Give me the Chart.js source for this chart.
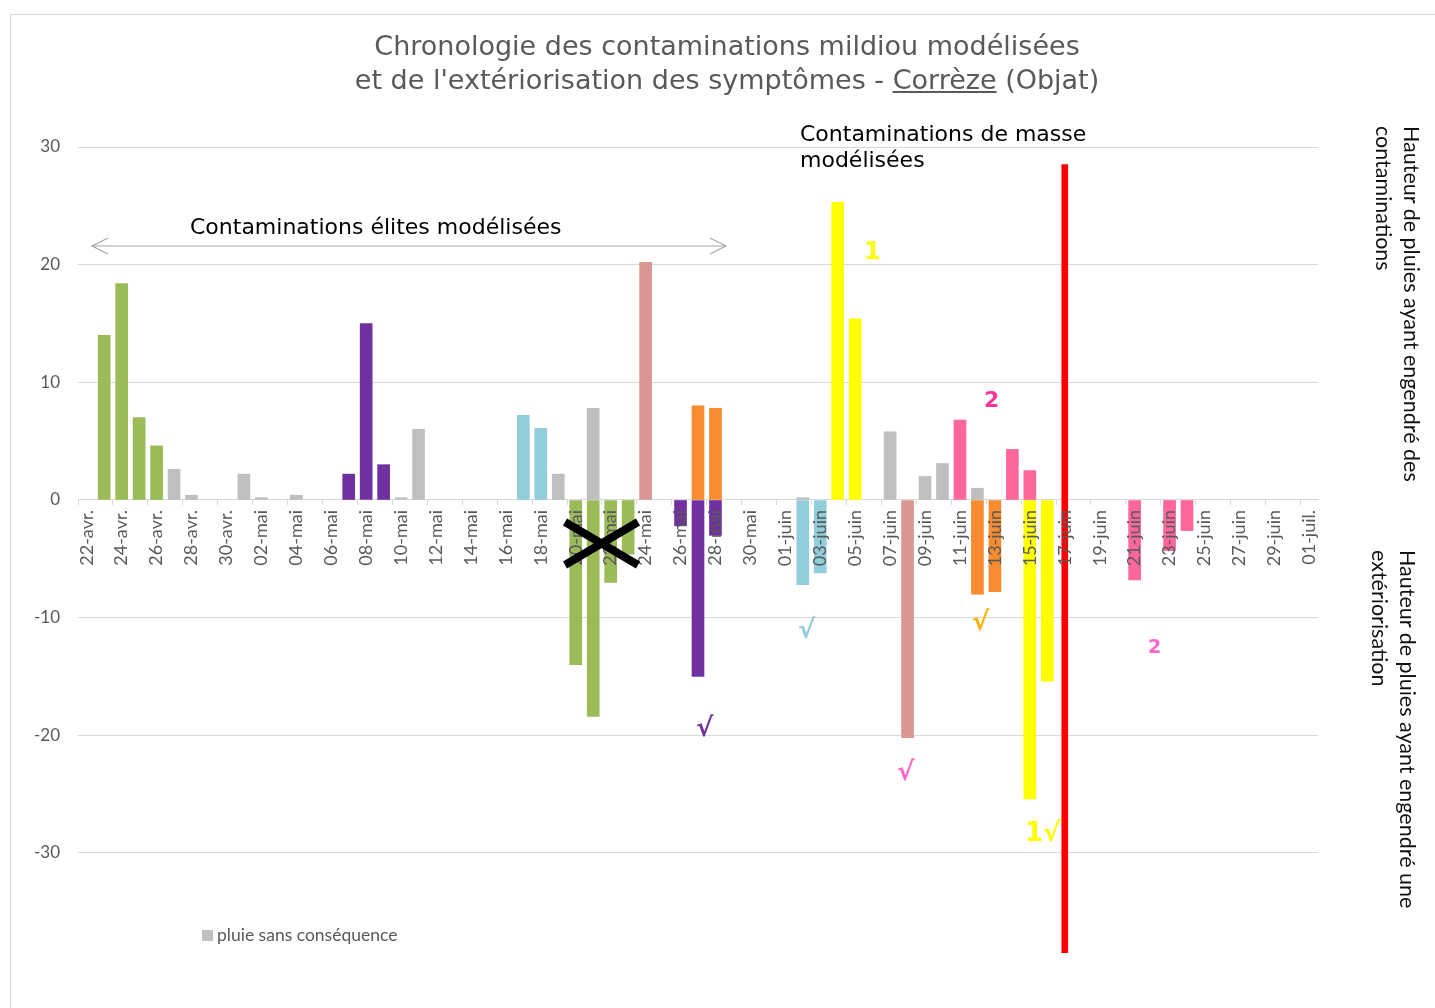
<!DOCTYPE html>
<html lang="fr">
<head>
<meta charset="utf-8">
<script src="https://cdn.jsdelivr.net/npm/chart.js@4.4.1/dist/chart.umd.min.js"></script>
<style>
  body { margin: 0; background: #fff; width: 1435px; height: 1008px; overflow: hidden; position: relative; font-family: "DejaVu Sans", sans-serif; }
  #frame { position: absolute; left: 10px; top: 14px; width: 1500px; height: 1100px; border-left: 1px solid #d9d9d9; border-top: 1px solid #d9d9d9; }
  #graph { position: absolute; left: 0; top: 0; }
  #marks { position: absolute; left: 0; top: 0; }
  .txt { position: absolute; white-space: nowrap; }
  #titre { left: 227px; top: 29px; width: 1000px; text-align: center; font-size: 27px; line-height: 34px; color: #595959; }
  .note { font-size: 22px; line-height: 26px; color: #000; }
  .axe { font-family: Lato, sans-serif; font-size: 21.5px; line-height: 28px; color: #111; writing-mode: vertical-rl; }
  .sym { font-weight: bold; font-family: "DejaVu Sans", sans-serif; }
  #legende { left: 202px; top: 925px; font-family: Lato, sans-serif; font-size: 17.5px; line-height: 20px; color: #595959; }
  #legende span { display: inline-block; width: 11px; height: 11px; background: #bfbfbf; margin-right: 4px; }
</style>
</head>
<body>
<div id="frame"></div>
<canvas id="graph" width="1435" height="1008"></canvas>

<div class="txt" id="titre">Chronologie des contaminations mildiou modélisées<br>et de l'extériorisation des symptômes - <u>Corrèze</u> (Objat)</div>
<div class="txt note" style="left:800px; top:121px;">Contaminations de masse<br>modélisées</div>
<div class="txt note" style="left:190px; top:214px;">Contaminations élites modélisées</div>
<div class="txt axe" style="left:1370px; top:126px;">Hauteur de pluies ayant engendré des<br>contaminations</div>
<div class="txt axe" style="left:1366px; top:550px;">Hauteur de pluies ayant engendré une<br>extériorisation</div>

<div class="txt sym" style="left:864px; top:237px; font-size:24px; color:#ffff00;">1</div>
<div class="txt sym" style="left:984px; top:387px; font-size:22px; color:#ff3399;">2</div>
<div class="txt sym" style="left:1148px; top:635px; font-size:19px; color:#ff66cc;">2</div>
<div class="txt sym" style="left:798px; top:614px; font-size:26px; font-style:italic; color:#92cddc;">√</div>
<div class="txt sym" style="left:972px; top:606px; font-size:26px; font-style:italic; color:#ffb000;">√</div>
<div class="txt sym" style="left:696px; top:712px; font-size:26px; font-style:italic; color:#7030a0;">√</div>
<div class="txt sym" style="left:897px; top:756px; font-size:26px; font-style:italic; color:#ff66cc;">√</div>
<div class="txt sym" style="left:1025px; top:817px; font-size:26px; color:#ffff00;">1<i>√</i></div>

<div class="txt" id="legende"><span></span>pluie sans conséquence</div>

<svg id="marks" width="1435" height="1008">
  <g stroke="#a6a6a6" stroke-width="1.2" fill="none">
    <line x1="92" y1="246" x2="726" y2="246"/>
    <polyline points="108,238 92,246 108,254"/>
    <polyline points="710,238 726,246 710,254"/>
  </g>
  <g stroke="#000" stroke-width="8" stroke-linecap="butt">
    <line x1="565" y1="522" x2="638" y2="565"/>
    <line x1="565" y1="565" x2="638" y2="522"/>
  </g>
</svg>

<script>
// jours affichés sur l'axe (22 avril -> 1er juillet)
const dates = [
  '22-avr.', '23-avr.', '24-avr.', '25-avr.', '26-avr.', '27-avr.', '28-avr.', '29-avr.', '30-avr.',
  '01-mai', '02-mai', '03-mai', '04-mai', '05-mai', '06-mai', '07-mai', '08-mai', '09-mai', '10-mai',
  '11-mai', '12-mai', '13-mai', '14-mai', '15-mai', '16-mai', '17-mai', '18-mai', '19-mai', '20-mai',
  '21-mai', '22-mai', '23-mai', '24-mai', '25-mai', '26-mai', '27-mai', '28-mai', '29-mai', '30-mai', '31-mai',
  '01-juin', '02-juin', '03-juin', '04-juin', '05-juin', '06-juin', '07-juin', '08-juin', '09-juin', '10-juin',
  '11-juin', '12-juin', '13-juin', '14-juin', '15-juin', '16-juin', '17-juin', '18-juin', '19-juin', '20-juin',
  '21-juin', '22-juin', '23-juin', '24-juin', '25-juin', '26-juin', '27-juin', '28-juin', '29-juin', '30-juin',
  '01-juil.'
];

// pluies (mm) : positif = contamination, negatif = exteriorisation
const grisDates = ['27-avr.', '28-avr.', '01-mai', '02-mai', '04-mai', '10-mai', '11-mai', '19-mai', '21-mai', '02-juin', '07-juin', '09-juin', '10-juin', '12-juin'];
const grisValeurs = [2.6, 0.4, 2.2, 0.2, 0.4, 0.2, 6.0, 2.2, 7.8, 0.2, 5.8, 2.0, 3.1, 1.0];

const vertDates = ['23-avr.', '24-avr.', '25-avr.', '26-avr.', '20-mai', '21-mai', '22-mai', '23-mai'];
const vertValeurs = [14.0, 18.4, 7.0, 4.6, -14.0, -18.4, -7.0, -4.6];

const violetDates = ['07-mai', '08-mai', '09-mai', '26-mai', '27-mai', '28-mai'];
const violetValeurs = [2.2, 15.0, 3.0, -2.2, -15.0, -3.0];

const bleuDates = ['17-mai', '18-mai', '02-juin', '03-juin'];
const bleuValeurs = [7.2, 6.1, -7.2, -6.2];

const roseDates = ['24-mai', '08-juin'];
const roseValeurs = [20.2, -20.2];

const orangeDates = ['27-mai', '28-mai', '12-juin', '13-juin'];
const orangeValeurs = [8.0, 7.8, -8.0, -7.8];

const jauneDates = ['04-juin', '05-juin', '15-juin', '16-juin'];
const jauneValeurs = [25.3, 15.4, -25.4, -15.4];

const fuchsiaDates = ['11-juin', '14-juin', '15-juin', '21-juin', '23-juin', '24-juin'];
const fuchsiaValeurs = [6.8, 4.3, 2.5, -6.8, -4.3, -2.6];

// trait rouge (limite)
const limiteDate = '17-juin';
const limiteBornes = [-38.5, 28.5];

function serie(label, jours, valeurs, couleur) {
    return {
        label: label,
        data: jours.map((d, i) => ({x: d, y: valeurs[i]})),
        backgroundColor: couleur
    };
}

const ctx = document.getElementById('graph').getContext('2d');

new Chart(ctx, {
    type: 'bar',
    data: {
        labels: dates,
        datasets: [
            {label: 'limite', data: [{x: limiteDate, y: limiteBornes}], backgroundColor: '#ff0000', barThickness: 6},
            serie('pluie sans conséquence', grisDates, grisValeurs, '#bfbfbf'),
            serie('vert', vertDates, vertValeurs, '#9bbb59'),
            serie('violet', violetDates, violetValeurs, '#7030a0'),
            serie('bleu', bleuDates, bleuValeurs, '#92cddc'),
            serie('rose', roseDates, roseValeurs, '#d99694'),
            serie('orange', orangeDates, orangeValeurs, '#f68b2f'),
            serie('jaune', jauneDates, jauneValeurs, '#ffff00'),
            serie('fuchsia', fuchsiaDates, fuchsiaValeurs, '#ff6699')
        ]
    },
    options: {
        responsive: false,
        animation: false,
        layout: {padding: {left: 10, right: 117, top: 147, bottom: 55}},
        datasets: {bar: {grouped: false, barThickness: 12}},
        plugins: {
            legend: {display: false},
            tooltip: {enabled: false}
        },
        scales: {
            x: {
                position: {y: 0},
                grid: {
                    drawOnChartArea: false,
                    tickLength: 5,
                    tickColor: (c) => c.index % 2 === 0 ? '#d9d9d9' : 'rgba(0,0,0,0)'
                },
                border: {color: '#d9d9d9'},
                ticks: {
                    z: 1,
                    autoSkip: false,
                    maxRotation: 90,
                    minRotation: 90,
                    padding: 5,
                    color: '#595959',
                    font: {family: 'Lato', size: 18},
                    callback: (v, i) => i % 2 === 0 ? dates[i] : ''
                }
            },
            y: {
                min: -38.5,
                max: 30,
                afterFit: (s) => { s.width = 68; },
                border: {display: false},
                grid: {color: '#d9d9d9', drawTicks: false},
                ticks: {
                    stepSize: 10,
                    includeBounds: false,
                    padding: 18,
                    color: '#595959',
                    font: {family: 'Lato', size: 17}
                }
            }
        }
    }
});
</script>
</body>
</html>
